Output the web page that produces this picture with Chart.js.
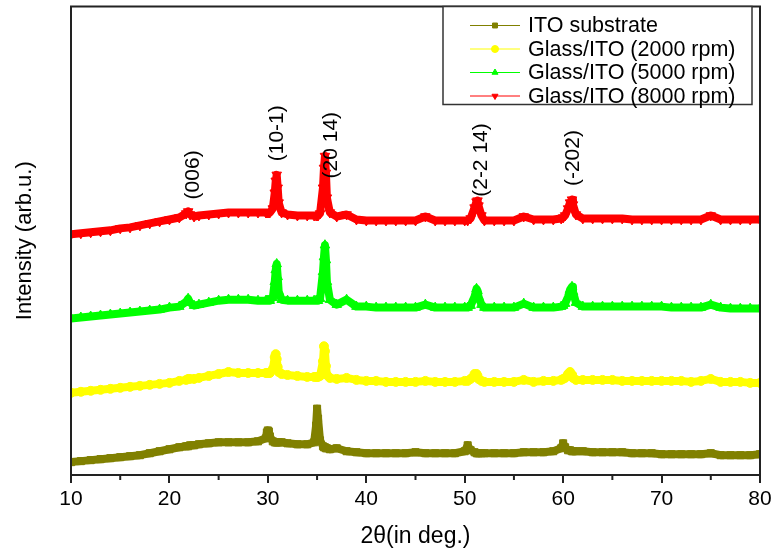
<!DOCTYPE html>
<html>
<head>
<meta charset="utf-8">
<script src="https://cdn.jsdelivr.net/npm/chart.js@4/dist/chart.umd.min.js"></script>
<style>
  html, body { margin: 0; padding: 0; background: #fff; }
  #wrap { width: 777px; height: 558px; }
</style>
</head>
<body>
<div id="wrap"><canvas id="xrdChart" width="777" height="558"></canvas></div>
<script>
// 2θ positions (deg)
const twoTheta = [
  10,11,12,13,14,15,16,17,18,19,20,21,21.7,21.9,22.1,22.5,23,24,25,26,27,28,29,
  29.8,29.9,30.0,30.1,30.2,30.5,30.7,30.8,30.9,31.0,31.1,31.4,32,33,34,
  34.7,34.9,35.0,35.1,35.3,35.6,35.7,35.8,35.9,36.0,36.3,37,38,39,
  40,41,42,43,44,45,46,47,48,49,
  50,50.3,50.6,51.0,51.2,51.3,51.4,51.7,52,53,54,55,56,57,58,59,
  59.8,60.0,60.2,60.5,60.7,60.9,61.0,61.3,62,63,64,65,66,67,68,69,
  70,71,72,73,74,75,76,77,78,79,80
];

// intensities (arb. u., curves already offset)
const itoSubstrate = [
  13,14,15,16,17,18,19,20,22,24,26,28,29,29,30,30,31,32,33,33,33,33,34,
  37,43,45,44,39,34,33,33,33,33,33,33,32,31,31,
  33,50,67,57,35,29,28,28,27,27,26,27,24,23,
  22,22,22,22,22,23,22,22,22,22,
  24,30,25,23,22,22,22,22,22,22,22,22,23,23,23,24,
  27,32,28,25,25,24,24,24,24,23,23,23,23,22,22,22,
  21,21,21,21,21,22,20,20,20,20,21
];
const rpm2000 = [
  83,84,85,86,87,88,89,90,91,92,93,95,96,97,97,97,98,100,102,104,103,103,103,
  103,103,103,103,103,107,119,122,117,109,104,102,101,100,99,
  99,99,99,99,100,115,130,125,110,101,98,97,98,96,
  95,95,94,94,94,94,95,94,94,94,
  95,95,97,102,102,100,97,95,94,94,94,94,96,94,95,95,
  96,97,98,102,104,101,98,96,96,96,96,96,95,95,95,95,
  95,95,95,94,95,97,94,94,94,93,93
];
const rpm5000 = [
  158,159,160,161,162,163,164,165,166,167,169,170,175,178,174,171,172,174,176,177,177,177,176,
  176,176,176,176,176,179,195,207,213,200,185,177,176,176,176,
  176,176,176,176,178,205,220,232,217,195,177,172,177,170,
  170,169,169,169,169,169,172,169,169,169,
  169,169,171,180,188,186,180,172,169,169,169,169,173,169,169,169,
  170,171,173,180,187,190,185,174,170,170,170,170,170,170,170,170,
  170,169,169,169,169,172,169,168,168,168,168
];
const rpm8000 = [
  243,244,245,246,247,249,250,252,254,256,258,260,264,266,263,261,262,263,264,265,265,265,265,
  265,265,265,265,265,269,285,297,303,290,275,265,263,262,262,
  262,262,262,262,264,290,310,322,305,280,265,261,263,258,
  257,257,257,257,257,257,261,257,257,257,
  257,257,259,270,276,277,272,262,257,257,257,257,261,258,258,258,
  259,260,262,269,275,278,273,263,259,259,259,259,259,258,258,258,
  258,258,258,258,258,262,258,258,258,258,258
];

const seriesNames = ['ITO substrate', 'Glass/ITO (2000 rpm)', 'Glass/ITO (5000 rpm)', 'Glass/ITO (8000 rpm)'];

// peak indexing labels
const peakLabels = ['(006)', '(10-1)', '(20 14)', '(2-2 14)', '(-202)'];
const peakLabelX = [22.4, 31.0, 36.4, 51.7, 61.0];
const peakLabelY = [303, 345, 333, 318, 320];

const minorTicks = [15, 25, 35, 45, 55, 65, 75];

Chart.defaults.font.family = "'Liberation Sans', Arial, sans-serif";
Chart.defaults.color = '#000';

function pts(values) {
  return twoTheta.map((x, i) => ({ x: x, y: values[i] }));
}

const styles = [
  { color: '#808000', point: 'rect', rot: 0, r: 5 },
  { color: '#ffff00', point: 'circle', rot: 0, r: 4.5 },
  { color: '#00ff00', point: 'triangle', rot: 0, r: 5.5 },
  { color: '#ff0000', point: 'triangle', rot: 180, r: 5.5 }
];
const allSeries = [itoSubstrate, rpm2000, rpm5000, rpm8000];

const datasets = allSeries.map((s, i) => ({
  label: seriesNames[i],
  data: pts(s),
  borderColor: styles[i].color,
  backgroundColor: styles[i].color,
  borderWidth: 8,
  borderJoinStyle: 'round',
  borderCapStyle: 'round',
  pointStyle: styles[i].point,
  pointRotation: styles[i].rot,
  pointRadius: styles[i].r,
  pointBorderWidth: 1,
  tension: 0
}));

// frame, minor ticks, peak labels and legend box
const decorations = {
  id: 'decorations',
  afterDraw(chart) {
    const ctx = chart.ctx;
    const a = chart.chartArea;
    const xs = chart.scales.x;
    const ys = chart.scales.y;
    ctx.save();
    ctx.strokeStyle = '#222';
    ctx.lineWidth = 2;
    ctx.strokeRect(a.left, a.top, a.right - a.left, a.bottom - a.top);

    minorTicks.forEach(v => {
      const px = xs.getPixelForValue(v);
      ctx.beginPath();
      ctx.moveTo(px, a.bottom);
      ctx.lineTo(px, a.bottom + 5);
      ctx.stroke();
    });

    ctx.fillStyle = '#000';
    ctx.font = "21px 'Liberation Sans', Arial, sans-serif";
    ctx.textAlign = 'center';
    ctx.textBaseline = 'middle';
    peakLabels.forEach((t, i) => {
      ctx.save();
      ctx.translate(xs.getPixelForValue(peakLabelX[i]), ys.getPixelForValue(peakLabelY[i]));
      ctx.rotate(-Math.PI / 2);
      ctx.fillText(t, 0, 0);
      ctx.restore();
    });

    // legend
    const bx = 443, by = a.top, bw = a.right - 8 - bx, bh = 98;
    ctx.fillStyle = '#fff';
    ctx.fillRect(bx, by, bw, bh);
    ctx.strokeStyle = '#333';
    ctx.lineWidth = 1.5;
    ctx.strokeRect(bx, by, bw, bh);
    ctx.font = "21.5px 'Liberation Sans', Arial, sans-serif";
    ctx.textAlign = 'left';
    chart.data.datasets.forEach((ds, i) => {
      const y = by + 19 + i * 23.5;
      ctx.strokeStyle = ds.borderColor;
      ctx.lineWidth = 1;
      ctx.beginPath();
      ctx.moveTo(470, y);
      ctx.lineTo(520, y);
      ctx.stroke();
      ctx.fillStyle = ds.backgroundColor;
      Chart.helpers.drawPoint(ctx, { pointStyle: ds.pointStyle, rotation: ds.pointRotation, radius: 3.5, borderWidth: 1 }, 495, y);
      ctx.fillStyle = '#000';
      ctx.fillText(ds.label, 528, y + 1);
    });
    ctx.restore();
  }
};

new Chart(document.getElementById('xrdChart'), {
  type: 'line',
  data: { datasets: datasets },
  options: {
    responsive: false,
    animation: false,
    layout: { padding: { top: 2, right: 17, bottom: 0, left: 0 } },
    plugins: { legend: { display: false }, tooltip: { enabled: false } },
    scales: {
      x: {
        type: 'linear',
        min: 10,
        max: 80,
        afterFit(s) { s.height = 83; },
        ticks: { stepSize: 10, padding: 4, font: { size: 21 }, maxRotation: 0 },
        grid: { display: true, drawOnChartArea: false, tickLength: 8, color: '#222', lineWidth: 2 },
        border: { display: true, color: '#222', width: 2 },
        title: { display: true, text: '2θ(in deg.)', font: { size: 23 }, padding: { top: 0, bottom: 8 } }
      },
      y: {
        min: 0,
        max: 473,
        afterFit(s) { s.width = 71; },
        ticks: { display: false },
        grid: { display: false },
        border: { display: true, color: '#222', width: 2 },
        title: { display: true, text: 'Intensity (arb.u.)', font: { size: 22 }, padding: { top: 12, bottom: 0 } }
      }
    }
  },
  plugins: [decorations]
});
</script>
</body>
</html>
